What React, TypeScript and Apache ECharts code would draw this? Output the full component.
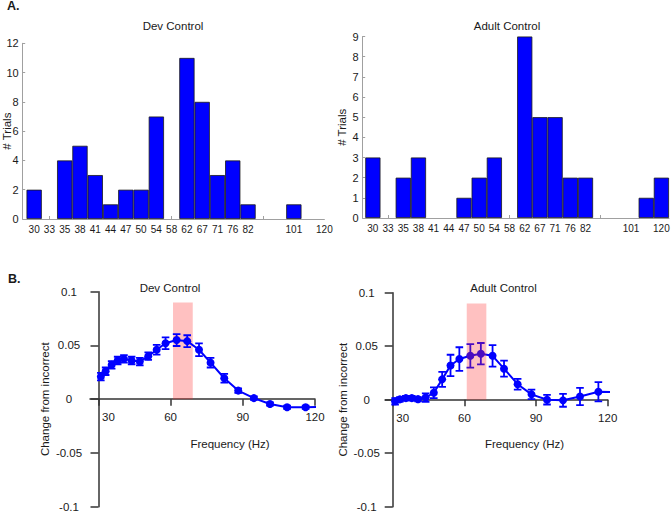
import React, { useEffect, useRef } from "react";
import * as echarts from "echarts";

// ---------- Panel A: histograms (bins at positions 1..20) ----------
const binPositions = [1, 2, 3, 4, 5, 6, 7, 8, 9, 10, 11, 12, 13, 14, 15, 16, 17, 18, 19, 20];
const binLabels = ["30", "33", "35", "38", "41", "44", "47", "50", "54", "58", "62", "67", "71", "76", "82", "", "", "101", "", "120"];
const devCounts = [2, 0, 4, 5, 3, 1, 2, 2, 7, 0, 11, 8, 3, 4, 1, 0, 0, 1, 0, 0];
const adultCounts = [3, 0, 2, 3, 0, 0, 1, 2, 3, 0, 9, 5, 5, 2, 2, 0, 0, 0, 1, 2];
const histTickPositions = [2, 10, 16];

// ---------- Panel B: change from incorrect vs frequency ----------
const freqs = [31, 33, 35.5, 38, 40.6, 43.8, 47.2, 50.7, 54.2, 57.9, 62.5, 66.9, 71.8, 76.6, 82.3, 88.1, 94.6, 101.3, 108.4, 116.1, 124.4];
const devChange = [0.021, 0.026, 0.032, 0.036, 0.0375, 0.036, 0.035, 0.04, 0.046, 0.052, 0.055, 0.054, 0.046, 0.034, 0.0195, 0.008, 0.001, -0.0045, -0.0075, -0.0075, -0.007];
const devErr = [0.0035, 0.0035, 0.0035, 0.0035, 0.0035, 0.0035, 0.0035, 0.0035, 0.0045, 0.0055, 0.0055, 0.0055, 0.006, 0.0045, 0.004, 0.002, 0.0015, 0.0015, 0.0015, 0.0015, 0];
const adultChange = [-0.0015, 0.0003, 0.0015, 0.0015, 0.0005, 0.002, 0.0065, 0.019, 0.032, 0.038, 0.041, 0.043, 0.041, 0.029, 0.0145, 0.005, 0.0, -0.0006, 0.003, 0.0075, 0.007];
const adultErr = [0.003, 0.002, 0.002, 0.002, 0.002, 0.004, 0.005, 0.007, 0.01, 0.011, 0.011, 0.01, 0.01, 0.0075, 0.005, 0.0045, 0.0045, 0.006, 0.008, 0.009, 0];
const freqTicks = [30, 60, 90, 120];
const gammaBand = [[61, 69.2, 0.09]];

const FONT = "'Liberation Sans', Arial, Helvetica, sans-serif";
const BLUE = "#0000ff";
const TXT = "#1a1a1a";

function histBars(counts: number[]) {
  return binPositions
    .map((p, i) => [p, counts[i]])
    .filter((d) => d[1] !== 0);
}

function histX(gridIndex: number, min: number, max: number) {
  return {
    type: "value",
    gridIndex,
    min,
    max,
    splitLine: { show: false },
    axisLine: { show: true, lineStyle: { color: "#a0a0a0", width: 1 } },
    axisTick: {
      show: true,
      inside: true,
      length: 3,
      customValues: histTickPositions,
      lineStyle: { color: "#a0a0a0" },
    },
    axisLabel: {
      customValues: binPositions.filter((p, i) => binLabels[i] !== ""),
      formatter: (v: number) => binLabels[binPositions.indexOf(Math.round(v))] || "",
      fontSize: 10,
      color: TXT,
      margin: 5,
      fontFamily: FONT,
    },
  };
}

function histY(gridIndex: number, max: number, interval: number, nameGap: number) {
  return {
    type: "value",
    gridIndex,
    min: 0,
    max,
    interval,
    name: "# Trials",
    nameLocation: "middle",
    nameGap,
    nameMoveOverlap: false,
    nameTextStyle: { fontSize: 11.5, color: TXT, fontFamily: FONT },
    splitLine: { show: false },
    axisLine: { show: true, lineStyle: { color: "#a0a0a0", width: 1 } },
    axisTick: { show: true, inside: true, length: 2.5, lineStyle: { color: "#a0a0a0" } },
    axisLabel: { fontSize: 11, color: TXT, margin: 4, fontFamily: FONT },
  };
}

// x axis drawn at y = 0 by shifting it up from the grid bottom (offset < 0)
function freqX(gridIndex: number, min: number, offset: number) {
  return {
    type: "value",
    gridIndex,
    min,
    max: 120,
    position: "bottom",
    offset,
    splitLine: { show: false },
    axisLine: { show: true, onZero: false, lineStyle: { color: "#333", width: 1.5 } },
    axisTick: { show: true, length: 6.5, customValues: freqTicks, lineStyle: { color: "#333", width: 1.5 } },
    axisLabel: {
      customValues: freqTicks,
      formatter: (v: number) => (Math.round(v) === 30 ? "{s|30}" : String(Math.round(v))),
      rich: { s: { padding: [0, 0, 0, 20], fontSize: 11.5, color: TXT, fontFamily: FONT } },
      fontSize: 11.5,
      color: TXT,
      margin: 12,
      fontFamily: FONT,
    },
  };
}

function changeY(gridIndex: number, offset: number, labelMargin: number, nameGap: number) {
  return {
    type: "value",
    gridIndex,
    min: -0.1,
    max: 0.1,
    interval: 0.05,
    offset,
    name: "Change from incorrect",
    nameLocation: "middle",
    nameGap,
    nameMoveOverlap: false,
    nameTextStyle: { fontSize: 11.5, color: TXT, fontFamily: FONT },
    splitLine: { show: false },
    axisLine: { show: true, onZero: false, lineStyle: { color: "#333", width: 1.5 } },
    axisTick: { show: true, length: 8, lineStyle: { color: "#333", width: 1.5 } },
    axisLabel: {
      align: "center",
      margin: labelMargin,
      fontSize: 11.5,
      color: TXT,
      fontFamily: FONT,
      formatter: (v: number) => String(+v.toFixed(2)),
    },
  };
}

function bandSeries(axisIndex: number, z: number) {
  return {
    type: "custom",
    xAxisIndex: axisIndex,
    yAxisIndex: axisIndex,
    z,
    silent: true,
    clip: true,
    encode: { x: [0, 1], y: [2] },
    data: gammaBand,
    renderItem: (params: any, api: any) => {
      const p0 = api.coord([api.value(0), api.value(2)]);
      const p1 = api.coord([api.value(1), 0]);
      return {
        type: "rect",
        shape: { x: p0[0], y: p0[1], width: p1[0] - p0[0], height: p1[1] - p0[1] },
        style: { fill: "rgba(255, 40, 40, 0.29)" },
      };
    },
  };
}

function lineSeries(axisIndex: number, values: number[]) {
  return {
    type: "line",
    xAxisIndex: axisIndex,
    yAxisIndex: axisIndex,
    z: 3,
    clip: true,
    symbol: "circle",
    symbolSize: 8,
    showAllSymbol: true,
    itemStyle: { color: BLUE },
    lineStyle: { color: BLUE, width: 2 },
    data: freqs.map((f, i) => [f, values[i]]),
  };
}

function errSeries(axisIndex: number, values: number[], errs: number[]) {
  return {
    type: "custom",
    xAxisIndex: axisIndex,
    yAxisIndex: axisIndex,
    z: 3,
    clip: true,
    encode: { x: 0, y: 1 },
    data: freqs.map((f, i) => [f, values[i], errs[i]]),
    renderItem: (params: any, api: any) => {
      const x = api.value(0);
      const y = api.value(1);
      const e = api.value(2);
      const top = api.coord([x, y + e]);
      const bot = api.coord([x, y - e]);
      const hw = 3.8;
      const style = { stroke: BLUE, lineWidth: 1.8 };
      return {
        type: "group",
        children: [
          { type: "line", shape: { x1: top[0], y1: top[1], x2: bot[0], y2: bot[1] }, style },
          { type: "line", shape: { x1: top[0] - hw, y1: top[1], x2: top[0] + hw, y2: top[1] }, style },
          { type: "line", shape: { x1: bot[0] - hw, y1: bot[1], x2: bot[0] + hw, y2: bot[1] }, style },
        ],
      };
    },
  };
}

function txt(text: string, left: number, top: number, align: string, size = 11.5, bold = false) {
  return {
    text,
    left,
    top,
    padding: 0,
    textAlign: align,
    textVerticalAlign: "top",
    textStyle: { fontSize: size, fontWeight: bold ? "bold" : "normal", color: TXT, fontFamily: FONT },
  };
}

export default function App() {
  const ref = useRef<HTMLDivElement>(null);
  useEffect(() => {
    if (!ref.current) return;
    const chart = echarts.init(ref.current, undefined, { renderer: "svg" });
    const option: any = {
      animation: false,
      backgroundColor: "#ffffff",
      textStyle: { fontFamily: FONT },
      title: [
        txt("A.", 7, -0.5, "left", 12.5, true),
        txt("B.", 8, 272.5, "left", 12.5, true),
        txt("Dev Control", 173, 19.5, "center"),
        txt("Adult Control", 507, 19.5, "center"),
        txt("Dev Control", 170, 281.5, "center"),
        txt("Adult Control", 503.5, 282, "center"),
        txt("Frequency (Hz)", 230, 437.5, "center"),
        txt("Frequency (Hz)", 524.5, 437.5, "center"),
      ],
      grid: [
        { left: 22.7, top: 43.3, width: 301.7, height: 175.7, outerBoundsMode: "none", containLabel: false },
        { left: 362.7, top: 36.5, width: 306.3, height: 181.5, outerBoundsMode: "none", containLabel: false },
        { left: 90, top: 291.7, width: 225, height: 215, outerBoundsMode: "none", containLabel: false },
        { left: 385.3, top: 292.7, width: 222.4, height: 214, outerBoundsMode: "none", containLabel: false },
      ],
      xAxis: [histX(0, 0.25, 20), histX(1, 0.33, 20.5), freqX(2, 26.5, -107.5), freqX(3, 26.9, -107)],
      yAxis: [histY(0, 12, 2, 10), histY(1, 9, 1, 15), changeY(2, -8.5, 29.5, 47.5), changeY(3, -7.4, 26, 44)],
      series: [
        {
          type: "bar",
          xAxisIndex: 0,
          yAxisIndex: 0,
          barWidth: "100%",
          itemStyle: { color: BLUE, borderColor: "#1a1a1a", borderWidth: 0.8 },
          data: histBars(devCounts),
        },
        {
          type: "bar",
          xAxisIndex: 1,
          yAxisIndex: 1,
          barWidth: "100%",
          itemStyle: { color: BLUE, borderColor: "#1a1a1a", borderWidth: 0.8 },
          data: histBars(adultCounts),
        },
        bandSeries(2, 1),
        lineSeries(2, devChange),
        errSeries(2, devChange, devErr),
        lineSeries(3, adultChange),
        errSeries(3, adultChange, adultErr),
        bandSeries(3, 10),
      ],
    };
    chart.setOption(option);
    return () => chart.dispose();
  }, []);
  return (
    <div
      ref={ref}
      style={{ position: "absolute", left: 0, top: 0, width: 672, height: 514, background: "#fff" }}
    />
  );
}
